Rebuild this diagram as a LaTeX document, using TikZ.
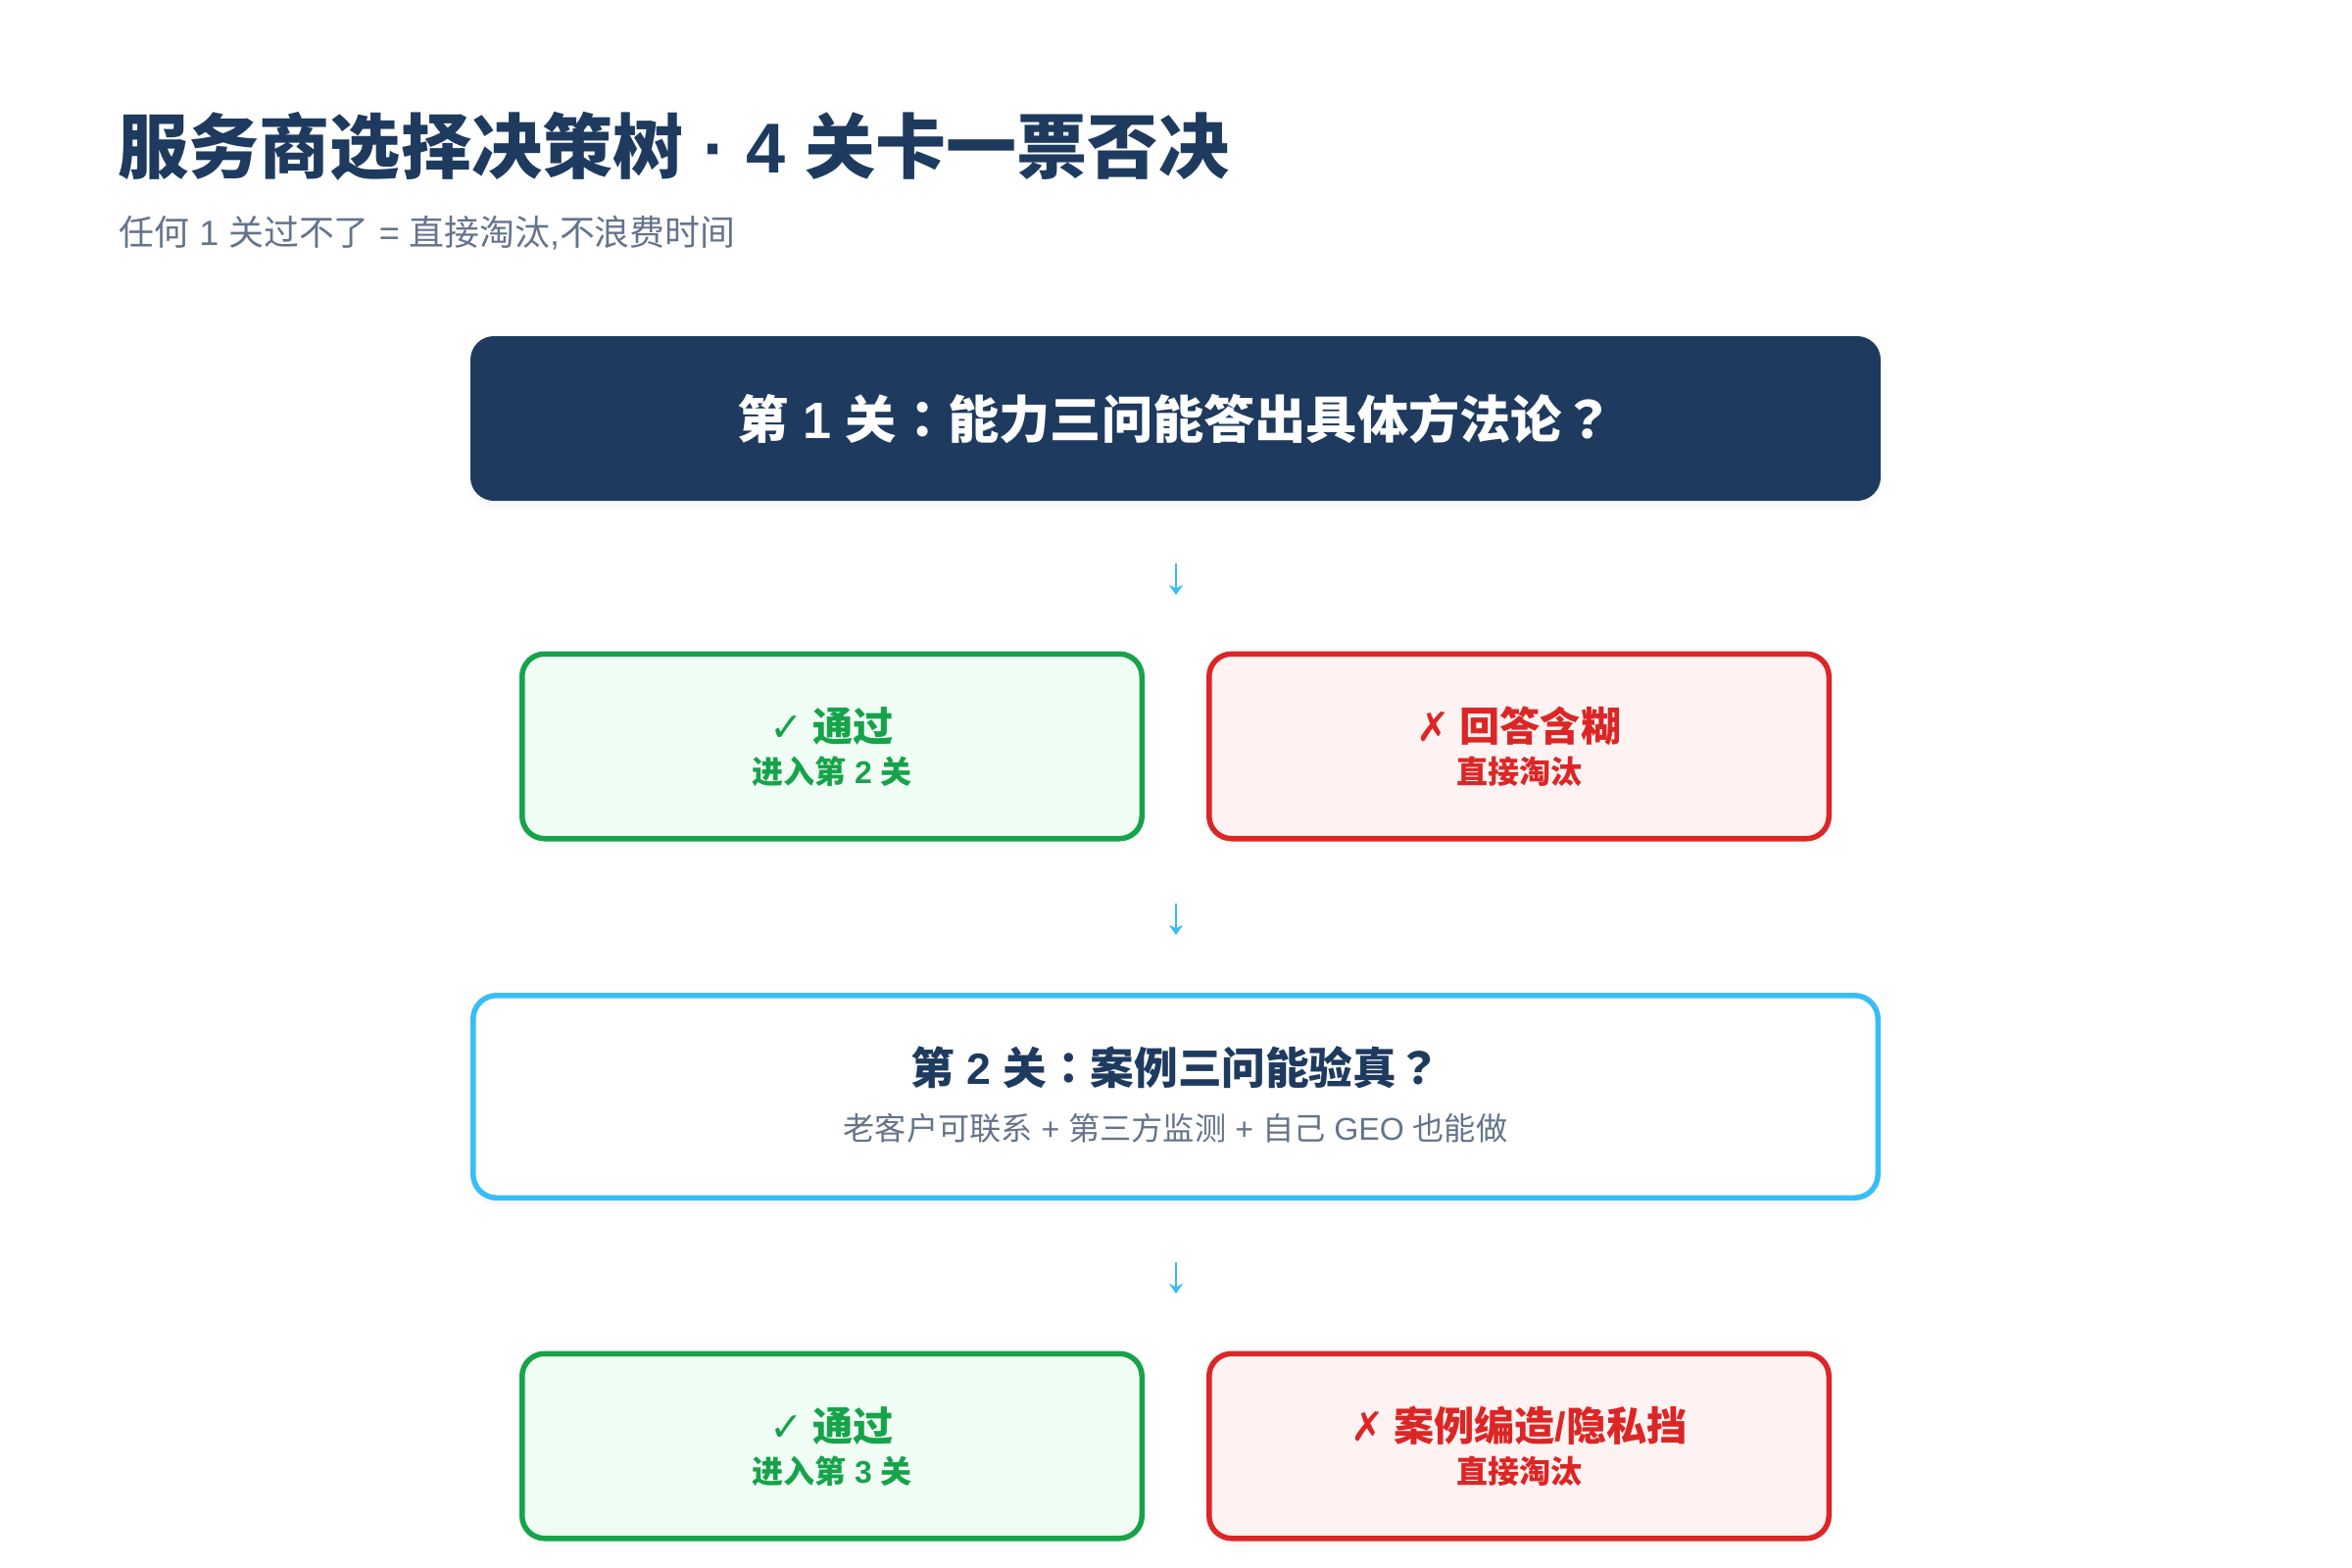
\documentclass[tikz,border=0pt]{standalone}
\usepackage{fontspec}
\setmainfont{Noto Sans CJK SC}
\newfontfamily\symfont{DejaVu Sans}
\newfontfamily\latfont{Liberation Sans}
\newfontfamily\jpfont{Noto Sans CJK JP}
\usepackage{tikz}
\usetikzlibrary{positioning,arrows.meta,shadows}
\definecolor{gnavy}{HTML}{1E3A5F}
\definecolor{ggray}{HTML}{64748B}
\definecolor{ggreen}{HTML}{16A34A}
\definecolor{ggreenbg}{HTML}{F0FDF4}
\definecolor{gred}{HTML}{DC2626}
\definecolor{gredbg}{HTML}{FEF2F2}
\definecolor{gblue}{HTML}{38BDF8}
\newdimen\gpx
\setlength{\gpx}{0.01cm}
\newcommand{\gfont}[1]{\fontsize{#1}{#1}\selectfont}
\newcommand{\lat}[1]{{\latfont #1}}
\newcommand{\jp}[1]{{\jpfont #1}}
\tikzstyle{gshadow}=[drop shadow={opacity=0.05,shadow xshift=0pt,shadow yshift=-8\gpx}]
\tikzstyle{navystyle}=[shape=rectangle,fill=gnavy,rounded corners=24\gpx,minimum width=1439\gpx,minimum height=168\gpx,gshadow]
\tikzstyle{gatestyle}=[shape=rectangle,draw=gblue,fill=white,line width=5.5\gpx,rounded corners=24\gpx,minimum width=1433.5\gpx,minimum height=206.5\gpx,gshadow]
\tikzstyle{passstyle}=[shape=rectangle,draw=ggreen,fill=ggreenbg,line width=5.5\gpx,rounded corners=23\gpx,minimum width=632.5\gpx,minimum height=188.5\gpx,gshadow]
\tikzstyle{failstyle}=[passstyle,draw=gred,fill=gredbg]
\tikzstyle{textstyle}=[inner sep=0pt]
\tikzstyle{flowarrow}=[draw=gblue,line width=0.57pt,-{Stealth[length=2.85pt,width=4pt]}]
\newcommand{\gresult}[8]{ \draw (#2,#3) node [style=#1] (#4) {}; \draw (#4.north) node [style=textstyle,yshift=-76.5\gpx,text=#8] (#4head) {\gfont{11.7pt}\bfseries{\symfont #5} #6}; \draw (#4.north) node [style=textstyle,yshift=-123\gpx,text=#8] (#4note) {\gfont{9.1pt}\bfseries #7}; }
\newcommand{\garrow}[3]{ \coordinate (#1top) at (1200,#2); \coordinate (#1bot) at (1200,#3); \draw[style=flowarrow] (#1top) -- (#1bot); }
\begin{document}
\begin{tikzpicture}[x=0.01cm,y=-0.01cm]
\useasboundingbox (0,0) rectangle (2400,1600);

\draw (120,149) node [style=textstyle,anchor=west,text=gnavy] (title) {\gfont{20.5pt}\bfseries 服务商选择决策树\lat{ · 4 }关卡一票否决}; %
\draw (121,237.5) node [style=textstyle,anchor=west,text=ggray] (subtitle) {\gfont{10.2pt}任何\lat{ 1 }关过不了\lat{ = }直接淘汰\lat{,}不浪费时间}; %

\draw (1199.5,427) node [style=navystyle,text=white] (gate1) {\gfont{14.85pt}\bfseries 第\lat{ 1 }关\jp{：}能力三问能答出具体方法论\jp{？}}; %
\garrow{arrow1}{575}{607} %
\gresult{passstyle}{849}{761.5}{pass1}{✓}{通过}{进入第\lat{ 2 }关}{ggreen} %
\gresult{failstyle}{1550}{761.5}{fail1}{✗}{回答含糊}{直接淘汰}{gred} %
\garrow{arrow2}{922}{954} %

\draw (1199.5,1119) node [style=gatestyle] (gate2) {}; %
\draw (gate2.north) node [style=textstyle,yshift=-76\gpx,text=gnavy] (gate2head) {\gfont{12.7pt}\bfseries 第\lat{ 2 }关\jp{：}案例三问能验真\jp{？}}; %
\draw (gate2.north) node [style=textstyle,yshift=-138\gpx,text=ggray] (gate2note) {\gfont{9.15pt}老客户可联系\lat{ + }第三方监测\lat{ + }自己\lat{ GEO }也能做}; %
\garrow{arrow3}{1288}{1320} %

\gresult{passstyle}{849}{1475.5}{pass2}{✓}{通过}{进入第\lat{ 3 }关}{ggreen} %
\gresult{failstyle}{1550}{1475.5}{fail2}{✗}{案例编造\lat{/}隐私挡}{直接淘汰}{gred} %
\end{tikzpicture}
\end{document}
